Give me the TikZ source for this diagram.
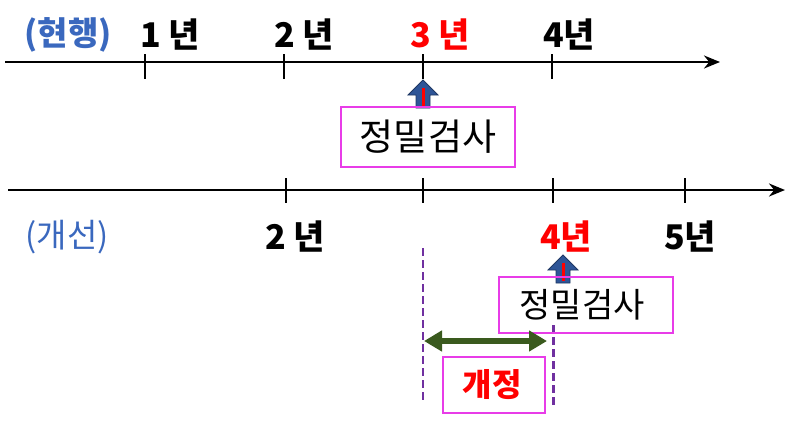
\documentclass[tikz,border=0pt]{standalone}
\usepackage{fontspec}
\setmainfont{Noto Sans CJK KR}
\usetikzlibrary{arrows.meta}
\definecolor{lblblue}{HTML}{3A68BE}
\definecolor{boxmag}{HTML}{E83CE8}
\definecolor{dashpurple}{HTML}{7030A0}
\definecolor{arrgreen}{HTML}{3A5A1E}
\definecolor{arrblue}{HTML}{2E5597}
\definecolor{arrrim}{HTML}{1F3864}
\begin{document}
\begin{tikzpicture}[x=1pt,y=-1pt,
  axisline/.style={line width=2.4pt,-{Stealth[length=16pt,width=13pt]}},
  tickline/.style={line width=1.4pt},
  yearlbl/.style={font=\fontsize{34}{36}\selectfont\bfseries,inner sep=0pt},
  yearred/.style={yearlbl,text=red},
  govlbl/.style={font=\fontsize{33}{36}\selectfont,text=lblblue,inner sep=0pt},
  magbox/.style={draw=boxmag,line width=1.3pt,inner sep=0pt},
  boxtext/.style={font=\fontsize{37}{40}\selectfont,inner sep=0pt},
  pics/blockarrow/.style={code={
    \fill[arrblue,draw=arrrim,line width=0.8pt] (-7,28) -- (-7,15) -- (-15,15) -- (0,0) -- (15,15) -- (7,15) -- (7,28) -- cycle;
    \fill[red] (-1.5,8) rectangle (1.5,26);
  }}
]
\useasboundingbox (0,0) rectangle (800,421);
% top axis
\coordinate (ta0) at (5,62);
\coordinate (ta1) at (720,62);
\draw[axisline] (ta0) -- (ta1);
\foreach \n/\x in {1/145,2/284,3/423,4/552}{
  \coordinate (tt\n a) at (\x,54);
  \coordinate (tt\n b) at (\x,79);
  \draw[tickline] (tt\n a) -- (tt\n b);
}
\node[govlbl,font=\fontsize{33}{36}\selectfont\bfseries] (hyeon) at (68,35) {(현행)};
\node[yearlbl] (y1) at (170,35) {1 년};
\node[yearlbl] (y2) at (304,35) {2 년};
\node[yearred] (y3) at (440,35) {3 년};
\node[yearlbl] (y4) at (569,35) {4년};
\pic at (423,80) {blockarrow};
\node[magbox,minimum width=174pt,minimum height=60pt] (box1) at (428,137) {};
\node[boxtext] (box1t) at (box1) {정밀검사};
% bottom axis
\coordinate (ba0) at (8,190);
\coordinate (ba1) at (785,190);
\draw[axisline] (ba0) -- (ba1);
\foreach \n/\x in {2/286,3/423,4/553,5/685}{
  \coordinate (bt\n a) at (\x,178);
  \coordinate (bt\n b) at (\x,203);
  \draw[tickline] (bt\n a) -- (bt\n b);
}
\node[govlbl] (gaeseon) at (67,237) {(개선)};
\node[yearlbl] (b2) at (295,237) {2 년};
\node[yearred] (b4) at (566,237) {4년};
\node[yearlbl] (b5) at (690,237) {5년};
% dashed lines
\coordinate (d1a) at (423,248);
\coordinate (d1b) at (423,403);
\draw[dashpurple,line width=1.6pt,dash pattern=on 8pt off 4pt] (d1a) -- (d1b);
\coordinate (d2a) at (553,325);
\coordinate (d2b) at (553,406);
\draw[dashpurple,line width=3pt,dash pattern=on 8pt off 4pt] (d2a) -- (d2b);
% bottom box and arrow
\pic at (563,255) {blockarrow};
\node[magbox,minimum width=174pt,minimum height=56pt] (box2) at (586,305) {};
\node[boxtext,font=\fontsize{34}{36}\selectfont] (box2t) at (582,305) {정밀검사};
% green double arrow
\coordinate (g0) at (424,341);
\coordinate (g1) at (547,341);
\draw[arrgreen,line width=6pt,{Triangle[length=18pt,width=20pt]}-{Triangle[length=18pt,width=20pt]}] (g0) -- (g1);
% revision box
\node[magbox,minimum width=102pt,minimum height=56pt] (box3) at (494,385) {};
\node[font=\fontsize{32}{34}\selectfont\bfseries,text=red,inner sep=0pt] (box3t) at (492,385) {개정};
\end{tikzpicture}
\end{document}
